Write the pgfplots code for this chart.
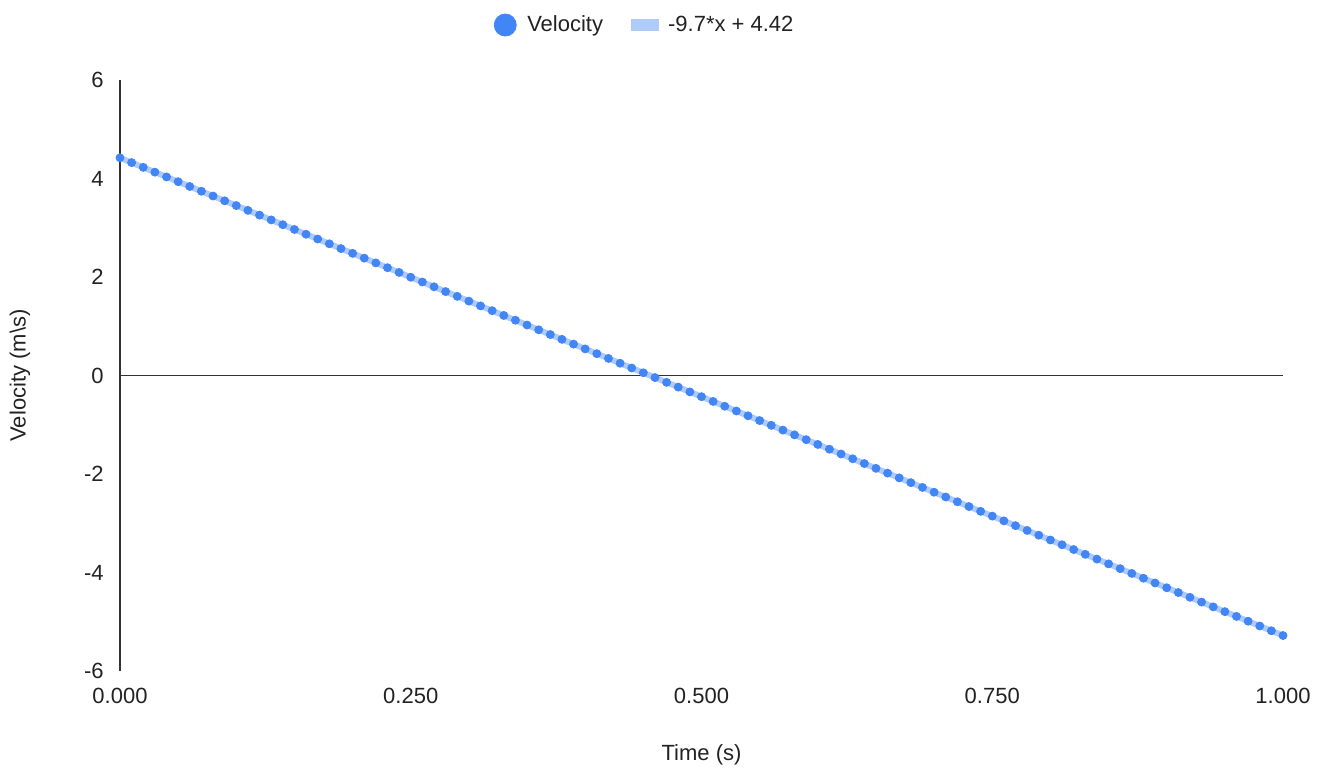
\documentclass[border=0pt]{standalone}
\usepackage{fontspec}
\setmainfont{Liberation Sans}
\usepackage{pgfplots}
\pgfplotsset{compat=1.18}

\definecolor{vel}{HTML}{4285F4}
\definecolor{trend}{HTML}{AECBFA}
\definecolor{axisgray}{HTML}{333333}
\definecolor{txt}{HTML}{222222}

\pgfplotstableread{
t v
0.00 4.420
0.01 4.323
0.02 4.226
0.03 4.129
0.04 4.032
0.05 3.935
0.06 3.838
0.07 3.741
0.08 3.644
0.09 3.547
0.10 3.450
0.11 3.353
0.12 3.256
0.13 3.159
0.14 3.062
0.15 2.965
0.16 2.868
0.17 2.771
0.18 2.674
0.19 2.577
0.20 2.480
0.21 2.383
0.22 2.286
0.23 2.189
0.24 2.092
0.25 1.995
0.26 1.898
0.27 1.801
0.28 1.704
0.29 1.607
0.30 1.510
0.31 1.413
0.32 1.316
0.33 1.219
0.34 1.122
0.35 1.025
0.36 0.928
0.37 0.831
0.38 0.734
0.39 0.637
0.40 0.540
0.41 0.443
0.42 0.346
0.43 0.249
0.44 0.152
0.45 0.055
0.46 -0.042
0.47 -0.139
0.48 -0.236
0.49 -0.333
0.50 -0.430
0.51 -0.527
0.52 -0.624
0.53 -0.721
0.54 -0.818
0.55 -0.915
0.56 -1.012
0.57 -1.109
0.58 -1.206
0.59 -1.303
0.60 -1.400
0.61 -1.497
0.62 -1.594
0.63 -1.691
0.64 -1.788
0.65 -1.885
0.66 -1.982
0.67 -2.079
0.68 -2.176
0.69 -2.273
0.70 -2.370
0.71 -2.467
0.72 -2.564
0.73 -2.661
0.74 -2.758
0.75 -2.855
0.76 -2.952
0.77 -3.049
0.78 -3.146
0.79 -3.243
0.80 -3.340
0.81 -3.437
0.82 -3.534
0.83 -3.631
0.84 -3.728
0.85 -3.825
0.86 -3.922
0.87 -4.019
0.88 -4.116
0.89 -4.213
0.90 -4.310
0.91 -4.407
0.92 -4.504
0.93 -4.601
0.94 -4.698
0.95 -4.795
0.96 -4.892
0.97 -4.989
0.98 -5.086
0.99 -5.183
1.00 -5.280
}\veldata

\begin{document}
\begin{tikzpicture}
% page frame: 1322x769 px at 2 px per pt, axis box from (120,80) to (1283,671)
\path[use as bounding box] (-60pt,-49pt) rectangle (601pt,335.5pt);
\begin{axis}[
  at={(0,0)}, anchor=south west,
  scale only axis,
  width=581.5pt, height=295.5pt,
  xmin=0, xmax=1,
  ymin=-6, ymax=6,
  axis x line*=bottom,
  axis y line*=left,
  x axis line style={draw=none},
  y axis line style={axisgray, line width=0.9pt},
  major tick length=0pt,
  xtick={0,0.25,0.5,0.75,1},
  ytick={-6,-4,-2,0,2,4,6},
  extra y ticks={0},
  extra y tick labels={},
  extra y tick style={grid=major, major grid style={axisgray, line width=0.9pt}},
  /pgf/number format/assume math mode=true,
  xticklabel style={/pgf/number format/.cd, fixed, fixed zerofill, precision=3, /tikz/.cd,
    inner sep=0pt, yshift=-8.5pt, font=\fontsize{11}{13}\selectfont, text=txt},
  yticklabel style={inner sep=0pt, xshift=-8pt, font=\fontsize{11}{13}\selectfont, text=txt},
  xlabel={Time (s)},
  ylabel={Velocity (m\textbackslash s)},
  xlabel style={at={(axis description cs:0.5,-0.142)}, anchor=center, font=\fontsize{11}{13}\selectfont, text=txt},
  ylabel style={at={(axis description cs:-0.086,0.5)}, anchor=center, font=\fontsize{11}{13}\selectfont, text=txt},
  legend columns=2,
  legend style={draw=none, at={(axis description cs:0.452,1.093)}, anchor=center,
    font=\fontsize{11}{13}\selectfont, text=txt,
    /tikz/every even column/.append style={column sep=12pt}},
  legend cell align=left,
]
\addlegendimage{legend image code/.code={\fill[vel] (5.5pt,0pt) circle (5.5pt);
  \path[draw=none, fill=none] (0pt,0pt) -- (14.5pt,0pt);}}
\addlegendentry{Velocity}
\addplot[trend, line width=3pt,
  legend image code/.code={\fill[trend] (0pt,-1.5pt) rectangle (11pt,1.5pt);
  \path[draw=none, fill=none] (0pt,0pt) -- (15pt,0pt);}]
  coordinates {(0,4.42) (1,-5.28)};
\addlegendentry{-9.7*x + 4.42}
\addplot[only marks, mark=*, mark size=2pt, color=vel, forget plot] table[x=t, y=v] {\veldata};
\end{axis}
\end{tikzpicture}
\end{document}
